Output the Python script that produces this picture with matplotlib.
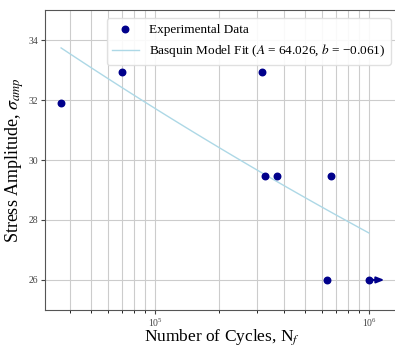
import numpy as np
import matplotlib
matplotlib.use("Agg")
import matplotlib.pyplot as plt

plt.rcParams['font.family'] = ['Liberation Serif', 'DejaVu Serif']
plt.rcParams['mathtext.fontset'] = 'stix'

# experimental data (cycles to failure, stress amplitude)
cycles = [36400, 70300, 315000, 327000, 371000, 664000, 634000, 1000000]
stress = [31.9, 32.95, 32.95, 29.48, 29.48, 29.48, 26.0, 26.0]
runout_n = 1000000
runout_s = 26.0

# Basquin fit parameters
A = 64.026
b = -0.061

fig = plt.figure(figsize=(3.95, 3.49), dpi=100)
ax = fig.add_axes([0.114, 0.112, 0.896, 0.859])

n_fit = np.logspace(np.log10(min(cycles)), np.log10(max(cycles)), 100)
s_fit = A * n_fit ** b

ax.scatter(cycles, stress, color='darkblue', s=22, zorder=3, label='Experimental Data')
ax.plot(n_fit, s_fit, color='lightblue', lw=1.0, zorder=2,
        label='Basquin Model Fit ($A$ = %.3f, $b$ = \u2212%.3f)' % (A, abs(b)))
ax.annotate('', xy=(runout_n * 1.18, runout_s), xytext=(runout_n, runout_s),
            arrowprops=dict(arrowstyle='-|>,head_length=0.45,head_width=0.18',
                            color='darkblue', lw=1.5, shrinkA=0, shrinkB=0), zorder=3)

ax.set_xscale('log')
ax.set_xlim(10 ** 4.486, 10 ** 6.14)
ax.set_ylim(25, 35)
ax.set_yticks([26, 28, 30, 32, 34])
ax.grid(True, which='major', color='#cccccc', lw=0.8)
ax.grid(True, which='minor', axis='x', color='#cccccc', lw=0.8)
ax.set_axisbelow(True)

ax.tick_params(labelsize=7, colors='#444444', length=3, pad=2)
ax.tick_params(which='minor', length=2)
for sp in ax.spines.values():
    sp.set_color('#555555')

ax.set_xlabel('Number of Cycles, N$_f$', fontsize=12.5, labelpad=-1)
ax.set_ylabel('Stress Amplitude, $\\sigma_{amp}$', fontsize=13, labelpad=2)

ax.legend(loc='upper right', fontsize=9.5, framealpha=0.9, edgecolor='#dddddd',
          bbox_to_anchor=(0.995, 0.995))

fig.savefig('out.png', dpi=100)
